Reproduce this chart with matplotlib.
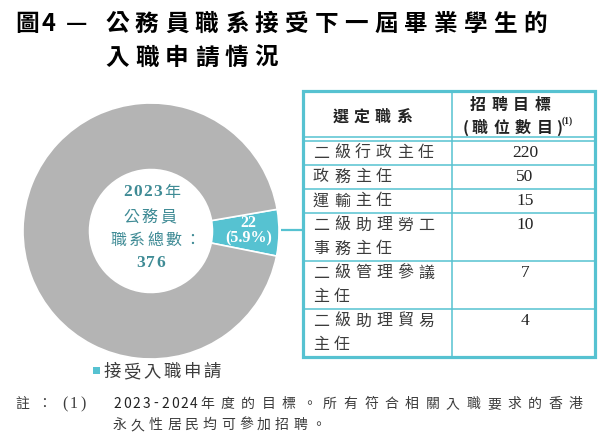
import numpy as np
import matplotlib
matplotlib.use('Agg')
import matplotlib.pyplot as plt
from matplotlib.patches import Rectangle

plt.rcParams['font.family'] = ['Noto Sans CJK TC', 'DejaVu Sans']

## datos
title_1 = '公務員職系接受下一屆畢業學生的'
title_2 = '入職申請情況'
total = 376
accepted = 22
pie_values = [accepted, total - accepted]
centre_lines = ['公務員', '職系總數：']
legend_label = '接受入職申請'

head_1 = '選定職系'
head_2 = ['招聘目標', '(職位數目)']
grades = [['二級行政主任'], ['政務主任'], ['運輸主任'],
          ['二級助理勞工', '事務主任'], ['二級管理參議', '主任'], ['二級助理貿易', '主任']]
targets = [220, 50, 15, 10, 7, 4]

note_year = '2023-2024'
note_1 = '年度的目標。所有符合相關入職要求的香港'
note_2 = '永久性居民均可參加招聘。'

## colores
CYAN = '#56C2D1'
GREY = '#B4B4B4'
TEAL = '#3F8B95'
TXT = '#3C3C3C'
SERIF = 'Liberation Serif'

fig = plt.figure(figsize=(6, 4.38), dpi=100)

## donut
cx, cy, R = 151, 231, 128
pa = fig.add_axes([(cx - R) / 600, (438 - cy - R) / 438, 2 * R / 600, 2 * R / 438])
wedges, _ = pa.pie(pie_values, colors=[CYAN, GREY], startangle=-11.3, radius=1,
                   wedgeprops=dict(width=0.52, edgecolor='white', linewidth=1.2))
pa.set_xlim(-1, 1)
pa.set_ylim(-1, 1)
mid = np.deg2rad((wedges[0].theta1 + wedges[0].theta2) / 2)
pa.text(0.76 * np.cos(mid), 0.76 * np.sin(mid) + 0.01,
        f'{accepted}\n({accepted / total * 100:.1f}%)', ha='center', va='center',
        color='white', fontweight='bold', family=SERIF, fontsize=11.5, linespacing=0.95)

## ejes en pixeles para todo lo demas
ax = fig.add_axes([0, 0, 1, 1])
ax.set_xlim(0, 600)
ax.set_ylim(438, 0)
ax.axis('off')


def spaced(x, y, s, pitch, **kw):
    for i, ch in enumerate(s):
        ax.text(x + i * pitch, y, ch, ha='left', va='center', **kw)


def spaced_c(x, y, s, pitch, **kw):
    # igual pero centrando cada caracter en su hueco
    for i, ch in enumerate(s):
        ax.text(x + (i + 0.5) * pitch, y, ch, ha='center', va='center', **kw)


## titulo
ax.text(15, 24, '圖', ha='left', va='center', fontsize=17, fontweight='bold', color='black')
ax.text(41, 24, '4', ha='left', va='center', fontsize=17, fontweight='bold', color='black')
ax.text(66, 24, '—', ha='left', va='center', fontsize=17, fontweight='bold', color='black')
spaced(105, 24, title_1, 29.9, fontsize=17, fontweight='bold', color='black')
spaced(105, 58, title_2, 29.9, fontsize=17, fontweight='bold', color='black')

## texto central
spaced_c(122, 192, '2023', 10.3, fontsize=12.5, fontweight='bold', family=SERIF, color=TEAL)
ax.text(164, 192, '年', ha='left', va='center', fontsize=11.5, fontweight='light', color=TEAL)
spaced(123, 217, centre_lines[0], 18.5, fontsize=11.5, fontweight='light', color=TEAL)
spaced(110, 240, centre_lines[1], 18.5, fontsize=11.5, fontweight='light', color=TEAL)
spaced_c(135, 263, str(total), 10.3, fontsize=12.5, fontweight='bold', family=SERIF, color=TEAL)

## linea de conexion
ax.plot([281, 303], [230, 230], color=CYAN, lw=1.6, solid_capstyle='butt')

## tabla
x0, x1, xm = 303, 595, 452
y_top, y_h1, y_h2 = 91, 137, 141
row_h = 24
ax.add_patch(Rectangle((x0, y_top), x1 - x0, 357 - y_top, fill=False, ec=CYAN, lw=2.3, zorder=3))
ax.plot([x0, x1], [y_h1, y_h1], color=CYAN, lw=1.1)
ax.plot([x0, x1], [y_h2, y_h2], color=CYAN, lw=1.1)
ax.plot([xm, xm], [y_top, 357], color=CYAN, lw=1.1)

spaced(333, 117, head_1, 21, fontsize=11.5, fontweight='bold', color='#222222')
spaced(470, 105, head_2[0], 21.5, fontsize=11.5, fontweight='bold', color='#222222')
ax.text(463, 128, '(', ha='left', va='center', fontsize=11.5, fontweight='bold', color='#222222')
spaced(472, 128, head_2[1][1:-1], 21.5, fontsize=11.5, fontweight='bold', color='#222222')
ax.text(556, 128, ')', ha='left', va='center', fontsize=11.5, fontweight='bold', color='#222222')
ax.text(562, 121, '(1)', ha='left', va='center', fontsize=7, fontweight='bold', family=SERIF, color='#222222')

y = y_h2
for lines, n in zip(grades, targets):
    for k, line in enumerate(lines):
        spaced(313, y + 12 + k * row_h, line, 21, fontsize=11.5, fontweight='light', color=TXT)
    ax.text(525, y + 12, str(n), ha='center', va='center', fontsize=12.5, family=SERIF, color='#222222')
    y += row_h * len(lines)
    if y < 350:
        ax.plot([x0, x1], [y, y], color=CYAN, lw=1.1)

## leyenda
ax.add_patch(Rectangle((93, 367), 7, 7, color=CYAN, lw=0))
spaced(103, 372, legend_label, 20, fontsize=12.5, fontweight='light', color=TXT)

## nota
ax.text(15, 404, '註', ha='left', va='center', fontsize=10, color=TXT)
ax.text(37, 404, '：', ha='left', va='center', fontsize=10, color=TXT)
spaced_c(60, 404, '(1)', 9.3, fontsize=11.5, family=SERIF, color=TXT)
spaced_c(113, 404, note_year, 9.5, fontsize=10, color='#222222')
spaced(200, 404, note_1, 20.5, fontsize=10, color=TXT)
spaced(113, 425, note_2, 18, fontsize=10, color=TXT)

plt.savefig('out.png', dpi=100)
